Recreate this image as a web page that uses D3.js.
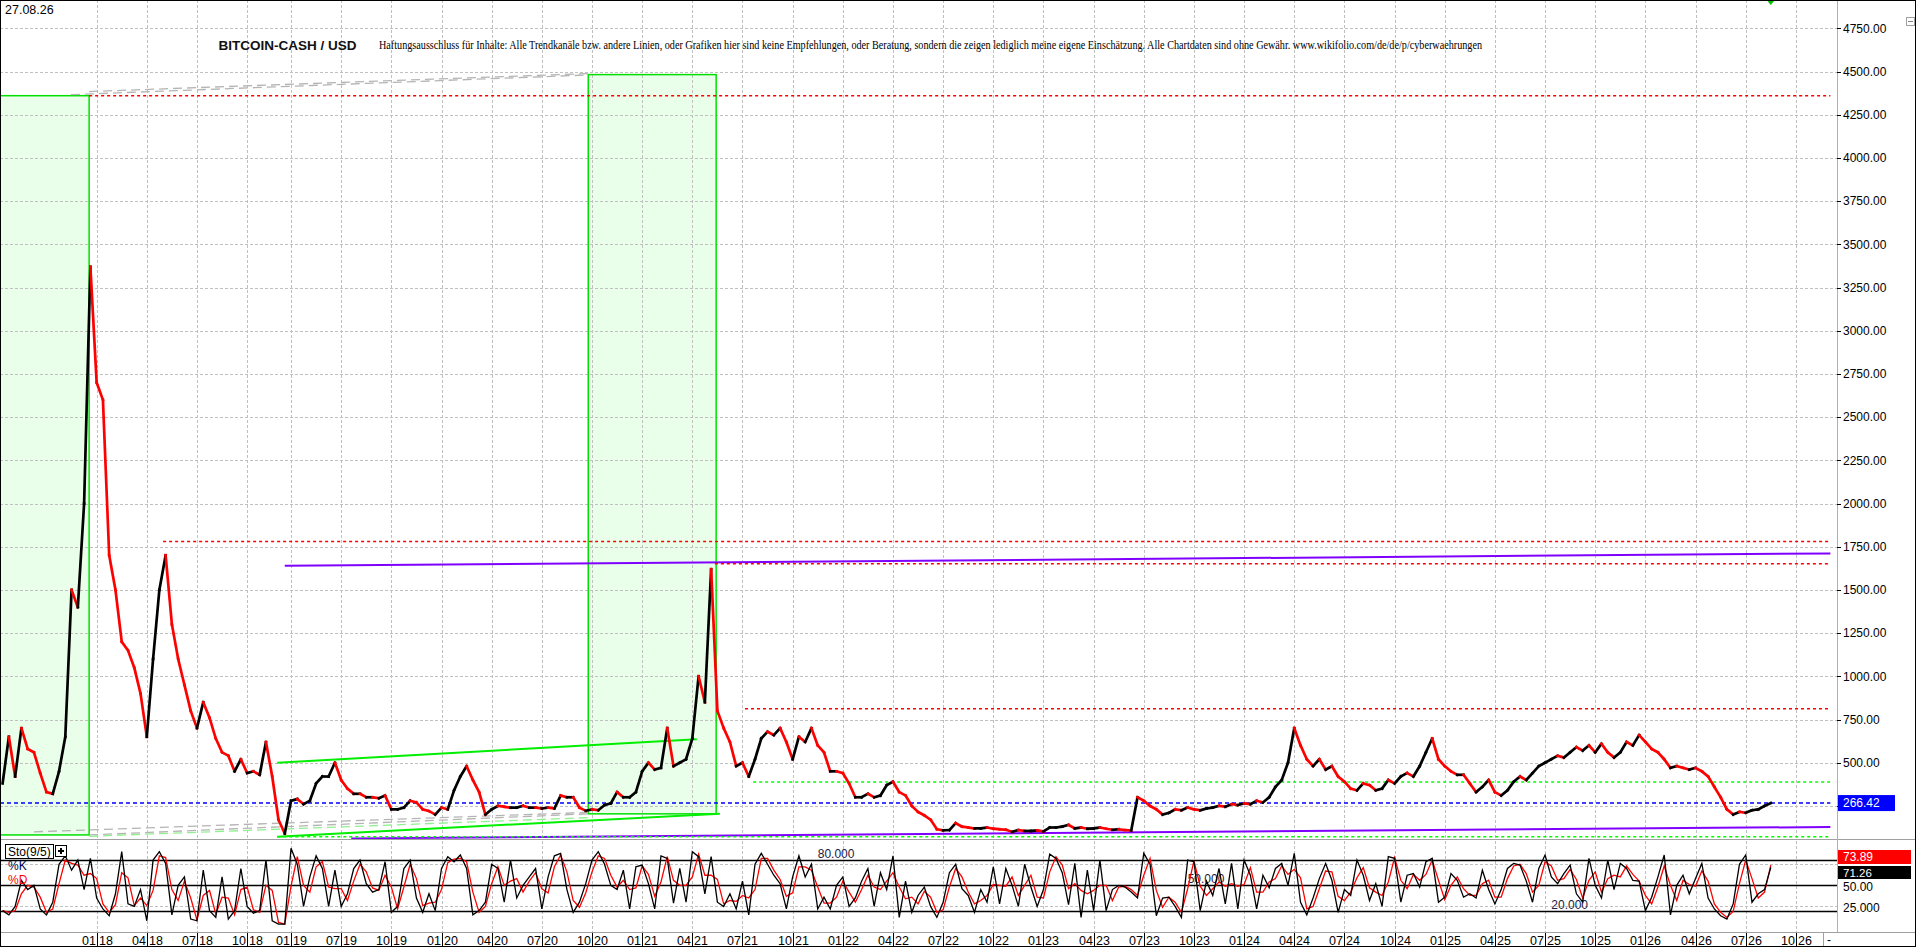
<!DOCTYPE html>
<html>
<head>
<meta charset="utf-8">
<script src="https://cdn.jsdelivr.net/npm/d3@7"></script>
<style>
  html, body { margin: 0; padding: 0; background: #fff; overflow: hidden; }
  svg { display: block; font-family: "Liberation Sans", Arial, sans-serif; }
</style>
</head>
<body>
<div id="chart"></div>
<script>
// ---- values ----
const chartDate = "27.08.26";
const chartTitle = "BITCOIN-CASH / USD";
const disclaimer = "Haftungsausschluss für Inhalte: Alle Trendkanäle bzw. andere Linien, oder Grafiken hier sind keine Empfehlungen, oder Beratung, sondern die zeigen lediglich meine eigene Einschätzung. Alle Chartdaten sind ohne Gewähr.  www.wikifolio.com/de/de/p/cyberwaehrungen";

// closing prices, one value per bar group (8 per quarter)
const closes = [
  380, 650, 420, 700, 580, 560, 440, 330, 320, 450,
  650, 1500, 1400, 2000, 3370, 2700, 2600, 1700, 1500, 1200,
  1150, 1050, 900, 650, 1100, 1500, 1700, 1300, 1100, 950,
  800, 700, 850, 760, 640, 560, 540, 450, 520, 440,
  450, 430, 620, 420, 170, 90, 280, 290, 260, 280,
  380, 420, 420, 500, 400, 350, 320, 320, 300, 300,
  295, 310, 230, 230, 240, 280, 270, 230, 220, 200,
  240, 230, 340, 420, 480, 400, 330, 200, 230, 250,
  245, 240, 240, 250, 240, 240, 235, 240, 235, 310,
  300, 300, 240, 222, 230, 225, 255, 265, 330, 300,
  300, 330, 450, 500, 460, 470, 700, 480, 500, 520,
  640, 1000, 850, 1620, 800, 700, 620, 480, 500, 420,
  520, 640, 680, 660, 700, 620, 520, 650, 620, 700,
  600, 560, 450, 450, 440, 380, 300, 300, 320, 300,
  310, 370, 390, 330, 310, 250, 215, 195, 170, 115,
  108, 110, 150, 130, 125, 120, 120, 125, 118, 115,
  112, 100, 110, 105, 105, 108, 102, 125, 125, 130,
  140, 120, 125, 118, 120, 125, 118, 112, 115, 110,
  108, 300, 280, 250, 230, 200, 210, 230, 225, 240,
  230, 225, 235, 240, 250, 245, 260, 255, 265, 260,
  280, 270, 300, 360, 400, 500, 700, 600, 520, 480,
  520, 460, 480, 420, 390, 350, 340, 380, 370, 340,
  350, 400, 380, 420, 440, 420, 480, 560, 640, 520,
  480, 450, 430, 430, 380, 330, 360, 400, 330, 310,
  340, 390, 420, 400, 440, 480, 500, 520, 540, 530,
  560, 590, 570, 600, 560, 610, 560, 530, 560, 620,
  600, 660, 620, 580, 560, 520, 470, 480, 470, 460,
  470, 450, 420, 360, 300, 230, 200, 215, 210, 225,
  230, 250, 266.42
];

// Sto(9/5) %K and %D
const stochK = [
  20, 15, 25, 56, 45, 50, 22, 15, 30, 75,
  85, 68, 80, 45, 82, 35, 22, 14, 40, 90,
  28, 25, 45, 8, 80, 90, 76, 15, 50, 60,
  10, 8, 68, 20, 12, 60, 10, 20, 70, 25,
  17, 20, 80, 8, 4, 4, 94, 75, 25, 60,
  85, 70, 25, 68, 25, 40, 70, 80, 52, 42,
  45, 78, 18, 25, 70, 80, 35, 18, 40, 20,
  70, 84, 78, 86, 70, 15, 20, 30, 75, 70,
  30, 80, 35, 50, 60, 70, 22, 60, 85, 88,
  45, 18, 30, 52, 80, 90, 75, 50, 45, 68,
  22, 72, 74, 52, 22, 85, 82, 29, 70, 30,
  90, 84, 40, 84, 30, 25, 40, 22, 55, 15,
  75, 88, 75, 62, 52, 22, 60, 85, 60, 75,
  22, 36, 22, 50, 60, 25, 35, 55, 70, 25,
  65, 45, 85, 12, 55, 18, 38, 48, 25, 12,
  30, 65, 75, 46, 38, 18, 45, 30, 72, 28,
  70, 50, 25, 75, 48, 25, 45, 87, 82, 65,
  27, 76, 12, 68, 20, 80, 20, 45, 50, 48,
  42, 35, 88, 75, 14, 35, 36, 25, 12, 80,
  78, 20, 55, 38, 70, 28, 76, 22, 80, 62,
  22, 62, 47, 70, 76, 50, 88, 30, 15, 35,
  58, 76, 56, 18, 45, 38, 80, 62, 32, 52,
  25, 84, 82, 30, 62, 64, 48, 78, 82, 30,
  36, 64, 56, 36, 40, 35, 68, 45, 28, 45,
  70, 76, 74, 55, 30, 70, 86, 60, 52, 64,
  74, 40, 30, 82, 50, 35, 80, 45, 76, 70,
  56, 55, 20, 36, 60, 86, 15, 50, 62, 40,
  58, 76, 35, 22, 14, 10, 28, 75, 86, 30,
  40, 45, 71.26
];
const stochD = [
  20, 18, 20, 40, 50, 48, 36, 18, 22, 52,
  80, 76, 74, 62, 64, 58, 28, 18, 27, 65,
  59, 26, 35, 26, 44, 85, 83, 45, 32, 55,
  35, 9, 38, 44, 16, 36, 35, 15, 45, 48,
  21, 18, 50, 44, 6, 4, 49, 84, 50, 42,
  72, 78, 48, 46, 46, 32, 55, 75, 66, 47,
  44, 62, 48, 22, 48, 75, 58, 26, 29, 30,
  45, 77, 81, 82, 78, 42, 18, 25, 52, 72,
  50, 55, 58, 42, 55, 65, 46, 41, 72, 86,
  66, 32, 24, 41, 66, 85, 82, 62, 48, 56,
  45, 47, 73, 63, 37, 54, 84, 56, 50, 50,
  60, 87, 62, 62, 57, 28, 32, 31, 38, 35,
  45, 82, 82, 68, 57, 37, 41, 72, 72, 68,
  48, 29, 29, 36, 55, 42, 30, 45, 62, 48,
  45, 55, 65, 48, 34, 36, 28, 43, 36, 18,
  21, 48, 70, 60, 42, 28, 32, 38, 51, 50,
  49, 60, 38, 50, 62, 36, 35, 66, 84, 74,
  46, 52, 44, 40, 44, 50, 50, 32, 48, 49,
  45, 38, 62, 82, 44, 24, 36, 30, 18, 46,
  79, 49, 38, 46, 54, 49, 52, 49, 51, 71,
  42, 42, 54, 58, 73, 63, 69, 59, 22, 25,
  46, 67, 66, 37, 32, 42, 59, 71, 47, 42,
  38, 54, 83, 56, 46, 63, 56, 63, 80, 56,
  33, 50, 60, 46, 38, 38, 52, 56, 36, 36,
  58, 73, 75, 64, 42, 50, 78, 73, 56, 58,
  69, 57, 35, 56, 66, 42, 58, 62, 60, 73,
  63, 55, 38, 28, 48, 73, 50, 32, 56, 51,
  49, 67, 55, 28, 18, 12, 19, 52, 80, 58,
  35, 42, 73.89
];

// price axis
const priceTicks = [250, 500, 750, 1000, 1250, 1500, 1750, 2000, 2250, 2500, 2750,
  3000, 3250, 3500, 3750, 4000, 4250, 4500, 4750];

// stochastic axis
const stochGrid = [25, 50, 75];
const stochAxisTicks = [25, 50];
const stochAxisLabels = ["25.000", "50.00"];
const stochLevels = [20, 50, 80];
const stochLevelLabels = ["20.000", "50.000", "80.000"];
const stochLevelLabelAt = [247, 189, 130];   // bar index where each level label sits

// time axis: label parts and the bar index they belong to
const tickMonths = ["01","04","07","10","01","07","10","01","04","07","10","01","04","07","10",
  "01","04","07","10","01","04","07","10","01","04","07","10","01","04","07","10","01","04","07","10"];
const tickYears = ["18","18","18","18","19","19","19","20","20","20","20","21","21","21","21",
  "22","22","22","22","23","23","23","23","24","24","24","24","25","25","25","25","26","26","26","26"];
const tickIndex = [15, 23, 31, 39, 46, 54, 62, 70, 78, 86, 94, 102, 110, 118, 126,
  134, 142, 150, 158, 166, 174, 182, 190, 198, 206, 214, 222, 230, 238, 246, 254, 262, 270, 278, 286];

// drawn annotations, in (bar index, price)
const lineEnd = 291.5;
const zoneBoxes = [
  { i1: -1, i2: 13.8, top: 4360, bottom: 82 },
  { i1: 93.4, i2: 113.8, top: 4482, bottom: 204 }
];
const resistance = [
  { from: 13.8, value: 4360 },
  { from: 25.6, value: 1780 },
  { from: 113.6, value: 1652 },
  { from: 118.4, value: 812 }
];
const support = [
  { from: 119.7, value: 388 },
  { from: 43.8, value: 72 }
];
const channel = [
  { i1: 43.8, v1: 500, i2: 110.7, v2: 635 },
  { i1: 43.8, v1: 72, i2: 114.4, v2: 205 }
];
const longTrend = [
  { i1: 45, v1: 1640, i2: lineEnd, v2: 1711 },
  { i1: 55.6, v1: 62, i2: lineEnd, v2: 128 }
];
const connectors = [
  { i1: 10.9, v1: 4366, i2: 93.4, v2: 4480 },
  { i1: 13.8, v1: 4384, i2: 93.4, v2: 4488 },
  { i1: 13.8, v1: 82, i2: 93.4, v2: 204 },
  { i1: 5, v1: 100, i2: 93.4, v2: 212 }
];
const lightConnectors = [
  { i1: 13.8, v1: 74, i2: 93.4, v2: 182 }
];
const lastClose = closes[closes.length - 1];
const lastK = stochK[stochK.length - 1];
const lastD = stochD[stochD.length - 1];

// ---- layout ----
const W = 1916, H = 948;
const plotRight = 1837;
const mainBottom = 839;
const stochTop = 841, stochBottom = 932;
const N = closes.length;

const svg = d3.select("#chart")
  .append("svg")
    .attr("width", W)
    .attr("height", H);

svg.append("rect").attr("width", W).attr("height", H).attr("fill", "#fff");

const x = d3.scaleLinear().domain([0, N - 1]).range([2.6, 1770.8]);
const y = d3.scaleLinear().domain([0, 4750]).range([849.1, 28.3]);
const ys = d3.scaleLinear().domain([0, 100]).range([927.5, 843.2]);

const defs = svg.append("defs");
defs.append("clipPath").attr("id", "mainClip")
  .append("rect").attr("x", 0).attr("y", 1).attr("width", plotRight).attr("height", mainBottom - 1);
defs.append("clipPath").attr("id", "stochClip")
  .append("rect").attr("x", 0).attr("y", stochTop).attr("width", plotRight).attr("height", stochBottom - stochTop);

const main = svg.append("g").attr("clip-path", "url(#mainClip)");

// zone fills (grid is drawn over them)
main.selectAll(".zoneFill")
  .data(zoneBoxes)
  .join("rect")
    .attr("x", d => x(d.i1))
    .attr("y", d => y(d.top))
    .attr("width", d => x(d.i2) - x(d.i1))
    .attr("height", d => y(d.bottom) - y(d.top))
    .attr("fill", "#eaffea");

// grid
const gridColor = "#c0c0c0";
main.selectAll(".hgrid")
  .data(priceTicks)
  .join("line")
    .attr("x1", 0).attr("x2", plotRight)
    .attr("y1", d => Math.round(y(d)) + 0.5).attr("y2", d => Math.round(y(d)) + 0.5)
    .attr("stroke", gridColor).attr("stroke-dasharray", "3,2");

main.selectAll(".vgrid")
  .data(tickIndex)
  .join("line")
    .attr("x1", d => Math.round(x(d)) + 0.5).attr("x2", d => Math.round(x(d)) + 0.5)
    .attr("y1", 0).attr("y2", mainBottom)
    .attr("stroke", gridColor).attr("stroke-dasharray", "3,2");

// zone borders
main.selectAll(".zoneEdge")
  .data(zoneBoxes)
  .join("rect")
    .attr("x", d => x(d.i1))
    .attr("y", d => y(d.top))
    .attr("width", d => x(d.i2) - x(d.i1))
    .attr("height", d => y(d.bottom) - y(d.top))
    .attr("fill", "none")
    .attr("stroke", "#00e000")
    .attr("stroke-width", 1.5);

function segLines(sel, data, color, width, dash) {
  sel.selectAll(null)
    .data(data)
    .join("line")
      .attr("x1", d => x(d.i1)).attr("y1", d => y(d.v1))
      .attr("x2", d => x(d.i2)).attr("y2", d => y(d.v2))
      .attr("stroke", color)
      .attr("stroke-width", width)
      .attr("stroke-dasharray", dash);
}

segLines(main, connectors, "#b4b4b4", 1.3, "9,5");
segLines(main, lightConnectors, "#90f090", 1.3, "9,5");
segLines(main, channel, "#00ee00", 2, null);
segLines(main, longTrend, "#8000ff", 2, null);

// horizontal levels
main.selectAll(".res")
  .data(resistance)
  .join("line")
    .attr("x1", d => x(d.from)).attr("x2", x(lineEnd))
    .attr("y1", d => y(d.value)).attr("y2", d => y(d.value))
    .attr("stroke", "#ff0000").attr("stroke-width", 1.5).attr("stroke-dasharray", "3,3");

main.selectAll(".sup")
  .data(support)
  .join("line")
    .attr("x1", d => x(d.from)).attr("x2", x(lineEnd))
    .attr("y1", d => y(d.value)).attr("y2", d => y(d.value))
    .attr("stroke", "#00ff00").attr("stroke-width", 1.5).attr("stroke-dasharray", "3,3");

main.append("line")
  .attr("x1", 0).attr("x2", x(lineEnd))
  .attr("y1", y(lastClose)).attr("y2", y(lastClose))
  .attr("stroke", "#0000ff").attr("stroke-width", 1.5).attr("stroke-dasharray", "4,3");

// price: black rising, red falling
main.selectAll(".bar")
  .data(d3.range(1, N))
  .join("line")
    .attr("x1", i => x(i - 1)).attr("y1", i => y(closes[i - 1]))
    .attr("x2", i => x(i)).attr("y2", i => y(closes[i]))
    .attr("stroke", i => closes[i] >= closes[i - 1] ? "#000" : "#ff0000")
    .attr("stroke-width", 2.7)
    .attr("stroke-linecap", "square");

// last bar marker at top
const xm = x(N - 1);
svg.append("path")
  .attr("d", `M${xm - 4},0L${xm + 4},0L${xm},5Z`)
  .attr("fill", "#00c000");

// header texts
svg.append("text").attr("x", 5).attr("y", 13.5)
  .attr("font-size", 12.5).attr("fill", "#000").text(chartDate);
svg.append("text").attr("x", 218.5).attr("y", 49.5)
  .attr("font-size", 13.5).attr("font-weight", "bold").attr("fill", "#111").text(chartTitle);
svg.append("text").attr("x", 379).attr("y", 49)
  .attr("font-family", "'Liberation Serif', 'Times New Roman', serif")
  .attr("font-size", 12)
  .attr("textLength", 1103).attr("lengthAdjust", "spacingAndGlyphs")
  .attr("fill", "#000").text(disclaimer);

// ---- stochastic panel ----
const sto = svg.append("g").attr("clip-path", "url(#stochClip)");

sto.selectAll(".sgrid")
  .data(stochGrid)
  .join("line")
    .attr("x1", 0).attr("x2", plotRight)
    .attr("y1", d => Math.round(ys(d)) + 0.5).attr("y2", d => Math.round(ys(d)) + 0.5)
    .attr("stroke", gridColor).attr("stroke-dasharray", "3,2");

sto.selectAll(".svgrid")
  .data(tickIndex)
  .join("line")
    .attr("x1", d => Math.round(x(d)) + 0.5).attr("x2", d => Math.round(x(d)) + 0.5)
    .attr("y1", stochTop).attr("y2", stochBottom)
    .attr("stroke", gridColor).attr("stroke-dasharray", "3,2");

sto.selectAll(".levelLabel")
  .data(stochLevels)
  .join("text")
    .attr("x", (d, k) => x(stochLevelLabelAt[k]))
    .attr("y", d => ys(d) - 2)
    .attr("font-size", 12)
    .attr("fill", "#202040")
    .text((d, k) => stochLevelLabels[k]);

sto.selectAll(".level")
  .data(stochLevels)
  .join("line")
    .attr("x1", 0).attr("x2", plotRight)
    .attr("y1", d => Math.round(ys(d)) + 0.5).attr("y2", d => Math.round(ys(d)) + 0.5)
    .attr("stroke", "#000").attr("stroke-width", 1.3);

const stoLine = d3.line().x((d, i) => x(i)).y(d => ys(d));
sto.append("path").attr("d", stoLine(stochD))
  .attr("fill", "none").attr("stroke", "#ff0000").attr("stroke-width", 1.3);
sto.append("path").attr("d", stoLine(stochK))
  .attr("fill", "none").attr("stroke", "#000").attr("stroke-width", 1.3);

// indicator legend
svg.append("rect").attr("x", 5.5).attr("y", 844.5).attr("width", 48).attr("height", 14)
  .attr("fill", "#fff").attr("stroke", "#000");
svg.append("text").attr("x", 8).attr("y", 856).attr("font-size", 12).attr("fill", "#000").text("Sto(9/5)");
svg.append("rect").attr("x", 55.5).attr("y", 845.5).attr("width", 11).attr("height", 11)
  .attr("fill", "#fff").attr("stroke", "#000");
svg.append("path").attr("d", "M58,851H64M61,848V854").attr("stroke", "#000").attr("stroke-width", 2);
svg.append("text").attr("x", 8).attr("y", 870).attr("font-size", 12).attr("fill", "#000050").text("%K");
svg.append("text").attr("x", 8).attr("y", 883.5).attr("font-size", 12).attr("fill", "#ff0000").text("%D");

// ---- frames and separators ----
svg.append("line").attr("x1", 0).attr("x2", W).attr("y1", 839.5).attr("y2", 839.5).attr("stroke", "#a0a0a0");
svg.append("line").attr("x1", 0).attr("x2", W).attr("y1", 932.5).attr("y2", 932.5).attr("stroke", "#a0a0a0");
svg.append("line").attr("x1", plotRight + 0.5).attr("x2", plotRight + 0.5).attr("y1", 0).attr("y2", 932)
  .attr("stroke", "#b0b0b0");

// ---- right price axis ----
const axisG = svg.append("g");
axisG.selectAll(".ptick")
  .data(priceTicks)
  .join("line")
    .attr("x1", plotRight).attr("x2", plotRight + 4)
    .attr("y1", d => Math.round(y(d)) + 0.5).attr("y2", d => Math.round(y(d)) + 0.5)
    .attr("stroke", "#000");
axisG.selectAll(".plabel")
  .data(priceTicks)
  .join("text")
    .attr("x", plotRight + 6)
    .attr("y", d => y(d))
    .attr("dy", "0.36em")
    .attr("font-size", 12)
    .attr("fill", "#000")
    .text(d => d3.format(".2f")(d));

// last price tag
svg.append("rect").attr("x", plotRight + 1).attr("y", y(lastClose) - 8).attr("width", 57).attr("height", 16)
  .attr("fill", "#0000ff");
svg.append("text").attr("x", plotRight + 6).attr("y", y(lastClose)).attr("dy", "0.36em")
  .attr("font-size", 12).attr("fill", "#fff").text(d3.format(".2f")(lastClose));

// stochastic axis
axisG.selectAll(".stlabel")
  .data(stochAxisTicks)
  .join("text")
    .attr("x", plotRight + 6)
    .attr("y", d => ys(d) + 1)
    .attr("dy", "0.36em")
    .attr("font-size", 12)
    .attr("fill", "#000")
    .text((d, k) => stochAxisLabels[k]);

svg.append("rect").attr("x", plotRight + 1).attr("y", 850).attr("width", 73).attr("height", 14).attr("fill", "#ff0000");
svg.append("text").attr("x", plotRight + 6).attr("y", 857).attr("dy", "0.36em")
  .attr("font-size", 12).attr("fill", "#fff").text(d3.format(".2f")(lastD));
svg.append("rect").attr("x", plotRight + 1).attr("y", 866).attr("width", 73).attr("height", 13).attr("fill", "#000");
svg.append("text").attr("x", plotRight + 6).attr("y", 872.5).attr("dy", "0.36em")
  .attr("font-size", 11.5).attr("fill", "#fff").text(d3.format(".2f")(lastK));

// ---- time axis ----
const tg = svg.append("g");
tg.selectAll(".ttick")
  .data(tickIndex)
  .join("line")
    .attr("x1", d => Math.round(x(d)) + 0.5).attr("x2", d => Math.round(x(d)) + 0.5)
    .attr("y1", 933).attr("y2", 947)
    .attr("stroke", "#000");
tg.selectAll(".tmonth")
  .data(tickIndex)
  .join("text")
    .attr("x", d => Math.round(x(d)) - 1)
    .attr("y", 945)
    .attr("text-anchor", "end")
    .attr("font-size", 12.5)
    .attr("fill", "#000")
    .text((d, k) => tickMonths[k]);
tg.selectAll(".tyear")
  .data(tickIndex)
  .join("text")
    .attr("x", d => Math.round(x(d)) + 2)
    .attr("y", 945)
    .attr("font-size", 12.5)
    .attr("fill", "#000")
    .text((d, k) => tickYears[k]);

svg.append("line").attr("x1", 1823.5).attr("x2", 1823.5).attr("y1", 933).attr("y2", 947).attr("stroke", "#a0a0a0");
svg.append("text").attr("x", 1827).attr("y", 944).attr("font-size", 12).attr("fill", "#000").text("-");

// small collapse button, top right
svg.append("rect").attr("x", 1906.5).attr("y", 17.5).attr("width", 8).attr("height", 8)
  .attr("fill", "#fff").attr("stroke", "#a0a0a0");
svg.append("line").attr("x1", 1908).attr("x2", 1913).attr("y1", 21.5).attr("y2", 21.5).attr("stroke", "#808080");

// outer frame
svg.append("rect").attr("x", 0.5).attr("y", 0.5).attr("width", W - 1).attr("height", 946)
  .attr("fill", "none").attr("stroke", "#000");
</script>
</body>
</html>
